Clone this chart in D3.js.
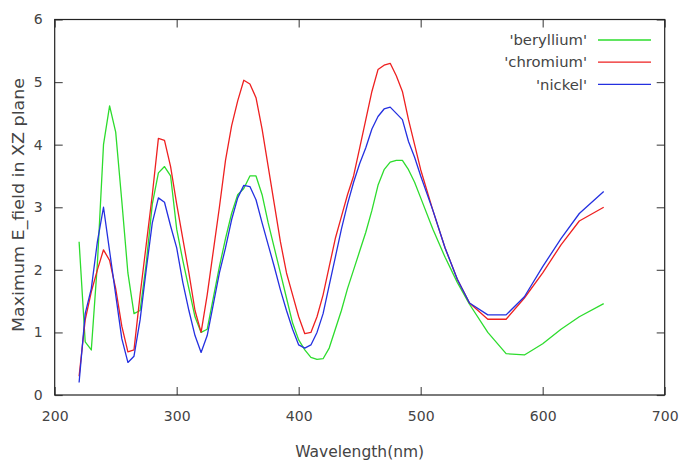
<!DOCTYPE html>
<html>
<head>
<meta charset="utf-8">
<script src="https://cdn.jsdelivr.net/npm/d3@7"></script>
<style>
  html, body { margin: 0; padding: 0; background: #fff; }
  svg { display: block; }
  text { font-family: "DejaVu Sans", sans-serif; fill: #444; }
</style>
</head>
<body>
<svg id="chart" width="683" height="462"></svg>
<script>
const wavelength = [220,225,230,235,240,245,250,255,260,265,270,275,280,285,290,295,300,305,310,315,
  320,325,330,335,340,345,350,355,360,365,370,375,380,385,390,395,400,405,410,415,
  420,425,430,435,440,445,450,455,460,465,470,475,480,485,490,495,500,510,520,530,540,
  555,570,585,600,615,630,650];

const beryllium = [2.45,0.85,0.72,2.1,4.0,4.62,4.2,3.1,1.95,1.3,1.35,2.1,3.05,3.55,3.65,3.5,2.65,2.15,1.7,1.25,
  1.0,1.05,1.55,2.05,2.5,2.9,3.2,3.3,3.5,3.5,3.2,2.75,2.35,1.95,1.55,1.15,0.88,0.72,0.6,0.57,
  0.58,0.75,1.05,1.35,1.7,2.0,2.3,2.6,2.95,3.35,3.6,3.72,3.75,3.75,3.6,3.4,3.15,2.65,2.2,1.8,1.45,
  1.0,0.66,0.64,0.82,1.05,1.25,1.46];

const chromium = [0.3,1.2,1.65,2.0,2.32,2.15,1.7,1.1,0.69,0.72,1.6,2.4,3.2,4.1,4.07,3.65,3.05,2.5,1.95,1.35,
  1.0,1.6,2.3,3.0,3.75,4.3,4.7,5.03,4.97,4.75,4.25,3.65,3.05,2.45,1.95,1.6,1.25,0.98,1.0,1.25,
  1.6,2.05,2.5,2.85,3.2,3.5,3.95,4.4,4.85,5.2,5.27,5.3,5.1,4.85,4.4,4.0,3.6,2.95,2.35,1.85,1.47,
  1.21,1.21,1.55,1.95,2.4,2.78,3.0];

const nickel = [0.2,1.3,1.7,2.45,3.0,2.3,1.6,0.9,0.52,0.62,1.2,2.0,2.75,3.15,3.08,2.7,2.35,1.8,1.35,0.95,
  0.68,0.95,1.45,1.95,2.35,2.8,3.15,3.35,3.33,3.12,2.75,2.4,2.05,1.68,1.35,1.05,0.8,0.75,0.8,1.0,
  1.3,1.75,2.2,2.65,3.05,3.4,3.7,3.95,4.25,4.45,4.57,4.6,4.5,4.4,4.05,3.8,3.5,2.95,2.35,1.85,1.47,
  1.28,1.28,1.57,2.05,2.5,2.9,3.25];

const seriesNames = ["'beryllium'", "'chromium'", "'nickel'"];
const seriesColors = ["#2ddc2d", "#ee2020", "#2430e0"];
const xTicks = [200,300,400,500,600,700];
const yTicks = [0,1,2,3,4,5,6];

const series = [beryllium, chromium, nickel];

const svg = d3.select("#chart");
const W = 683, H = 462;
const margin = {left: 54.7, right: W - 664.7, top: 19.5, bottom: H - 395};

const x = d3.scaleLinear().domain([200, 700]).range([margin.left, W - margin.right]);
const y = d3.scaleLinear().domain([0, 6]).range([H - margin.bottom, margin.top]);

const tickLen = 8;
const frameColor = "#222";

const gx = svg.append("g").attr("transform", `translate(0,${y(0)})`)
  .call(d3.axisBottom(x).tickValues(xTicks).tickSize(-tickLen).tickPadding(16).tickFormat(d3.format("d")));
const gxt = svg.append("g").attr("transform", `translate(0,${y(6)})`)
  .call(d3.axisTop(x).tickValues(xTicks).tickSize(-tickLen).tickFormat(""));
const gy = svg.append("g").attr("transform", `translate(${x(200)},0)`)
  .call(d3.axisLeft(y).tickValues(yTicks).tickSize(-tickLen).tickPadding(12).tickFormat(d3.format("d")));
const gyr = svg.append("g").attr("transform", `translate(${x(700)},0)`)
  .call(d3.axisRight(y).tickValues(yTicks).tickSize(-tickLen).tickFormat(""));

[gx, gxt, gy, gyr].forEach(g => {
  g.select(".domain").remove();
  g.selectAll(".tick line").attr("stroke", "#555").attr("stroke-width", 1.2);
  g.selectAll(".tick text").attr("font-size", 14).attr("fill", "#444")
    .attr("font-family", "DejaVu Sans, sans-serif");
});

svg.append("rect")
  .attr("x", x(200)).attr("y", y(6))
  .attr("width", x(700) - x(200)).attr("height", y(0) - y(6))
  .attr("fill", "none").attr("stroke", frameColor).attr("stroke-width", 1.2);

const line = d3.line().x((d, i) => x(wavelength[i])).y(d => y(d));
series.forEach((s, k) => {
  svg.append("path").datum(s)
    .attr("d", line)
    .attr("fill", "none")
    .attr("stroke", seriesColors[k])
    .attr("stroke-width", 1.3)
    .attr("stroke-linejoin", "round");
});

const legend = svg.append("g");
seriesNames.forEach((name, k) => {
  const ly = 40 + k * 22.2;
  legend.append("text").attr("x", 587).attr("y", ly).attr("dy", "0.35em")
    .attr("text-anchor", "end").attr("font-size", 14.8).text(name);
  legend.append("line").attr("x1", 598).attr("x2", 651).attr("y1", ly).attr("y2", ly)
    .attr("stroke", seriesColors[k]).attr("stroke-width", 1.3);
});

svg.append("text").attr("x", (x(200) + x(700)) / 2).attr("y", 452).attr("dy", "0.35em")
  .attr("text-anchor", "middle").attr("font-size", 15.5).text("Wavelength(nm)");
svg.append("text").attr("transform", `translate(19,205) rotate(-90)`)
  .attr("dy", "0.35em").attr("text-anchor", "middle").attr("font-size", 15)
  .attr("textLength", 254).attr("lengthAdjust", "spacingAndGlyphs")
  .text("Maximum E_field in XZ plane");
</script>
</body>
</html>
